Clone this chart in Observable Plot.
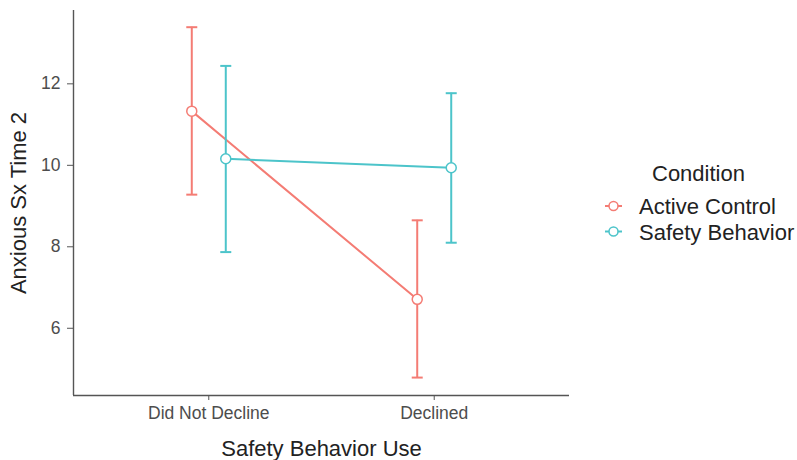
<!DOCTYPE html>
<html>
<head>
<meta charset="utf-8">
<script src="https://cdn.jsdelivr.net/npm/d3@7"></script>
<script src="https://cdn.jsdelivr.net/npm/@observablehq/plot@0.6"></script>
<style>
  html, body { margin: 0; padding: 0; background: #fff; }
  #wrap { position: relative; width: 797px; height: 460px; font-family: "Liberation Sans", Arial, sans-serif; }
  #legend { position: absolute; left: 0; top: 0; }
</style>
</head>
<body>
<div id="wrap"></div>
<script>
const categories = ["Did Not Decline", "Declined"];
const conditions = ["Active Control", "Safety Behavior"];
const colors = ["#F47C74", "#4CC4CA"];
// means, lower and upper bounds per condition (order matches categories)
const activeMean  = [11.33, 6.71];
const activeLow   = [9.28, 4.79];
const activeHigh  = [13.39, 8.65];
const safetyMean  = [10.16, 9.94];
const safetyLow   = [7.87, 8.10];
const safetyHigh  = [12.44, 11.77];
const yTicks = [6, 8, 10, 12];
const xTitle = "Safety Behavior Use";
const yTitle = "Anxious Sx Time 2";
const legendTitle = "Condition";

const series = [
  {name: conditions[0], color: colors[0], mean: activeMean, low: activeLow, high: activeHigh, dx: -17},
  {name: conditions[1], color: colors[1], mean: safetyMean, low: safetyLow, high: safetyHigh, dx: 17}
];

// horizontal-bar symbol used for error-bar caps
const capSymbol = {
  draw(context, size) {
    const w = Math.sqrt(size / Math.PI);
    context.moveTo(-w, 0);
    context.lineTo(w, 0);
  }
};

const marks = [];
for (const s of series) {
  const rows = categories.map((c, i) => ({pos: i + 1, mean: s.mean[i], low: s.low[i], high: s.high[i]}));
  marks.push(Plot.ruleX(rows, {x: "pos", y1: "low", y2: "high", stroke: s.color, strokeWidth: 2, dx: s.dx}));
  marks.push(Plot.dot(rows, {x: "pos", y: "low", symbol: capSymbol, r: 5.5, fill: "none", stroke: s.color, strokeWidth: 2, dx: s.dx}));
  marks.push(Plot.dot(rows, {x: "pos", y: "high", symbol: capSymbol, r: 5.5, fill: "none", stroke: s.color, strokeWidth: 2, dx: s.dx}));
  marks.push(Plot.line(rows, {x: "pos", y: "mean", stroke: s.color, strokeWidth: 2, dx: s.dx}));
  marks.push(Plot.dot(rows, {x: "pos", y: "mean", stroke: s.color, fill: "white", r: 5, strokeWidth: 1.5, dx: s.dx}));
}

const chart = Plot.plot({
  width: 580,
  height: 460,
  marginLeft: 73,
  marginRight: 11,
  marginTop: 10,
  marginBottom: 65,
  style: {fontFamily: "Liberation Sans, Arial, sans-serif", background: "white", overflow: "visible"},
  x: {type: "linear", domain: [0.4, 2.6], label: null},
  y: {domain: [4.35, 13.8], label: null},
  marks: [
    Plot.axisY({ticks: yTicks, tickSize: 6, tickPadding: 7, fontSize: 17.5, color: "#4d4d4d", stroke: "#555", label: null}),
    Plot.axisX({ticks: [1, 2], tickFormat: (d) => categories[d - 1], tickSize: 5, tickPadding: 6, fontSize: 17.5, color: "#4d4d4d", stroke: "#555", label: null}),
    Plot.ruleY([4.35], {stroke: "#555", strokeWidth: 1.4}),
    Plot.ruleX([0.4], {stroke: "#555", strokeWidth: 1.4}),
    ...marks,
    Plot.text([xTitle], {frameAnchor: "bottom", textAnchor: "middle", dy: 53, fontSize: 22, fill: "#222", lineAnchor: "middle"}),
    Plot.text([yTitle], {frameAnchor: "left", textAnchor: "middle", dx: -55, rotate: -90, fontSize: 22, fill: "#222", lineAnchor: "middle"})
  ]
});

const wrap = document.getElementById("wrap");
wrap.appendChild(chart);

// Legend (SVG overlay to the right of the plot)
const ns = "http://www.w3.org/2000/svg";
const leg = document.createElementNS(ns, "svg");
leg.setAttribute("id", "legend");
leg.setAttribute("width", 797);
leg.setAttribute("height", 460);
leg.style.pointerEvents = "none";
leg.style.fontFamily = "Liberation Sans, Arial, sans-serif";
const t = document.createElementNS(ns, "text");
t.setAttribute("x", 652); t.setAttribute("y", 181);
t.setAttribute("font-size", 22); t.setAttribute("fill", "#222");
t.textContent = legendTitle;
leg.appendChild(t);
series.forEach((s, i) => {
  const cy = 206 + i * 25.5;
  const ln = document.createElementNS(ns, "line");
  ln.setAttribute("x1", 605); ln.setAttribute("x2", 622);
  ln.setAttribute("y1", cy); ln.setAttribute("y2", cy);
  ln.setAttribute("stroke", s.color); ln.setAttribute("stroke-width", 2);
  leg.appendChild(ln);
  const c = document.createElementNS(ns, "circle");
  c.setAttribute("cx", 613.5); c.setAttribute("cy", cy); c.setAttribute("r", 4.5);
  c.setAttribute("fill", "white"); c.setAttribute("stroke", s.color); c.setAttribute("stroke-width", 1.5);
  leg.appendChild(c);
  const tx = document.createElementNS(ns, "text");
  tx.setAttribute("x", 639); tx.setAttribute("y", cy + 8);
  tx.setAttribute("font-size", 22); tx.setAttribute("fill", "#222");
  tx.textContent = s.name;
  leg.appendChild(tx);
});
wrap.appendChild(leg);
</script>
</body>
</html>
